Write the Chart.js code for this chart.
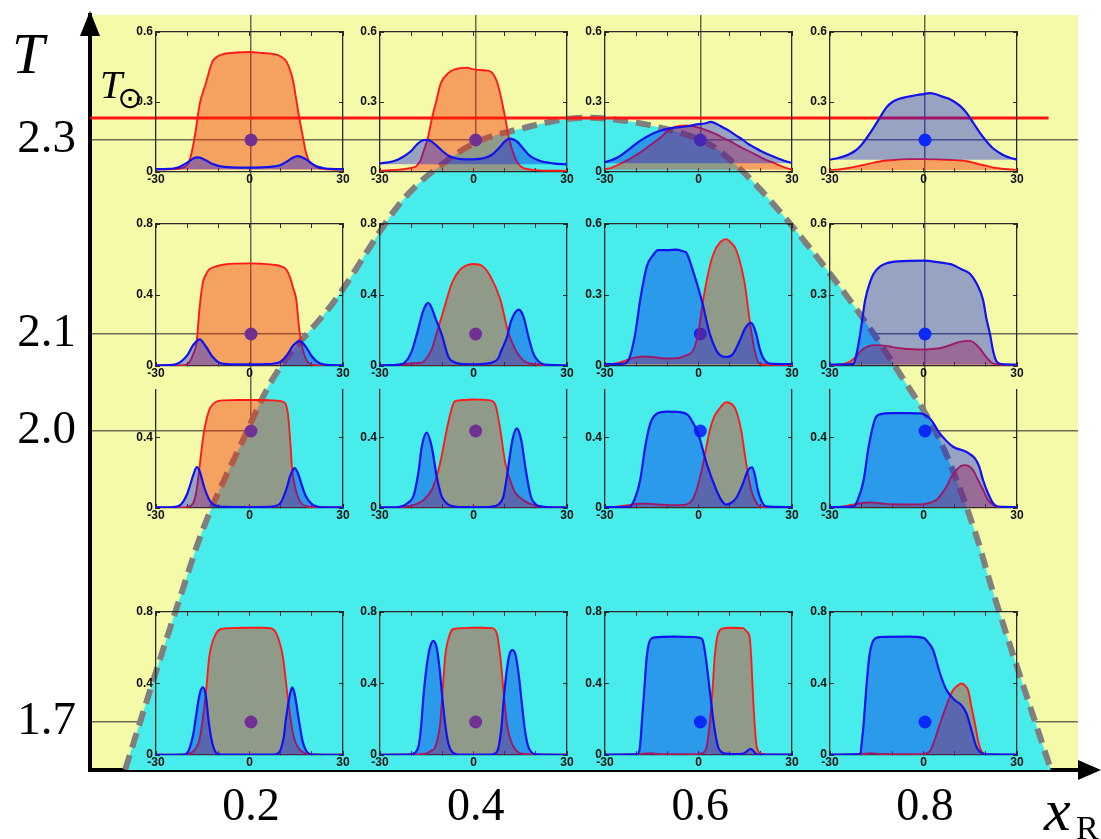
<!DOCTYPE html>
<html>
<head>
<meta charset="utf-8">
<script src="https://cdn.jsdelivr.net/npm/chart.js@4.4.1/dist/chart.umd.min.js"></script>
<style>
  body { margin: 0; background: #fff; }
  #wrap { position: relative; width: 1101px; height: 839px; }
  #wrap canvas { position: absolute; left: 0; top: 0; }
</style>
</head>
<body>
<div id="wrap"><canvas id="main" width="1101" height="839"></canvas></div>
<script>
// main axes
const xTicks = [0.2, 0.4, 0.6, 0.8];
const tTicks = [1.7, 2.0, 2.1, 2.3];
const gridXR = [0.2, 0.4, 0.6, 0.8];
const gridT = [2.3, 2.1, 2.0, 1.7];
const tSun = 2.3227;
const sunLineX = [0.057, 0.91];

// dome boundary (dashed curve)
const domeX = [0.088, 0.113, 0.139, 0.157, 0.193, 0.219, 0.275, 0.335, 0.377, 0.401, 0.431, 0.499,
               0.567, 0.609, 0.629, 0.662, 0.733, 0.781, 0.813, 0.844, 0.860, 0.912];
const domeT = [1.651, 1.743, 1.836, 1.898, 1.991, 2.053, 2.135, 2.238, 2.281, 2.298, 2.309, 2.323,
               2.312, 2.295, 2.277, 2.238, 2.135, 2.053, 1.991, 1.898, 1.836, 1.651];

// inset axes
const insetXTicks = [-30, -20, -10, 0, 10, 20, 30];
const insetXLabels = [-30, 0, 30];
const yTicks06 = [0, 0.3, 0.6];
const yTicks08 = [0, 0.4, 0.8];
const yTicksCut = [0, 0.4];

// inset profiles [x, value] : row 1 (T = 2.3)
const r1c1Red = [[-30,.012],[-24,.013],[-22,.016],[-20,.03],[-19,.06],[-18,.12],[-17,.2],[-16,.29],[-14,.38],[-12,.47],[-10,.497],[-8,.507],[-4,.512],[0,.514],[4,.51],[8,.505],[10,.495],[12,.47],[14,.39],[15,.31],[16,.23],[17,.16],[18,.09],[19,.05],[20,.035],[22,.018],[24,.013],[30,.01]];
const r1c1Blue = [[-30,.012],[-26,.013],[-24,.016],[-22,.025],[-20,.04],[-18,.058],[-17,.063],[-16,.062],[-14,.05],[-12,.035],[-10,.026],[-8,.022],[-4,.019],[0,.019],[4,.02],[8,.024],[10,.03],[12,.045],[14,.062],[15.5,.068],[17,.062],[18,.055],[20,.036],[22,.022],[24,.016],[26,.013],[30,.012]];
const r1c2Red = [[-30,.006],[-24,.01],[-22,.013],[-20,.018],[-18.5,.024],[-17,.05],[-16,.09],[-14.8,.138],[-13.2,.238],[-12,.3],[-10.5,.38],[-8,.425],[-6,.44],[-4,.445],[-2,.447],[0,.44],[2,.437],[4,.435],[5.6,.43],[7.7,.38],[10.1,.238],[11.5,.138],[13.6,.053],[15.2,.024],[18.4,.01],[22,.006],[30,.005]];
const r1c2Blue = [[-30,.037],[-28,.04],[-26,.045],[-24,.055],[-22,.07],[-20,.09],[-18,.12],[-16,.137],[-15.3,.138],[-14,.135],[-12,.115],[-10,.09],[-8,.07],[-6,.06],[-4,.055],[0,.054],[2,.056],[4,.062],[6,.075],[8,.1],[10,.13],[11.5,.143],[13,.138],[14,.13],[16,.1],[18,.07],[20,.055],[22,.045],[24,.04],[26,.036],[30,.033]];
const r1c3Red = [[-30,.013],[-28,.018],[-26,.03],[-24,.042],[-22,.056],[-20,.073],[-18,.09],[-16,.11],[-14,.13],[-12,.15],[-10,.175],[-8,.19],[-6,.197],[-4,.2],[-2,.197],[0,.19],[2,.182],[4,.171],[6,.16],[8,.145],[10,.133],[12,.118],[14,.103],[16,.09],[18,.077],[20,.063],[22,.05],[24,.04],[26,.028],[28,.018],[30,.01]];
const r1c3Blue = [[-30,.042],[-28,.05],[-26,.062],[-24,.08],[-22,.1],[-20,.122],[-18,.14],[-16,.155],[-14,.168],[-12,.178],[-10,.185],[-8,.19],[-6,.192],[-4,.195],[-2,.2],[0,.205],[2,.208],[4,.215],[6,.205],[8,.19],[10,.175],[12,.157],[14,.14],[16,.12],[18,.105],[20,.09],[22,.077],[24,.066],[26,.056],[28,.046],[30,.038]];
const r1c4Red = [[-30,.009],[-28,.01],[-26,.013],[-24,.017],[-22,.022],[-20,.028],[-18,.034],[-16,.04],[-14,.045],[-12,.049],[-10,.051],[-8,.053],[-4,.055],[0,.055],[4,.054],[8,.052],[10,.051],[12,.049],[14,.046],[16,.04],[18,.033],[20,.027],[22,.02],[24,.016],[26,.013],[28,.011],[30,.009]];
const r1c4Blue = [[-30,.053],[-28,.058],[-26,.065],[-24,.075],[-22,.09],[-20,.115],[-18,.15],[-16,.19],[-14,.233],[-12,.275],[-10,.3],[-8,.313],[-6,.32],[-4,.325],[-2,.33],[0,.334],[2,.338],[4,.333],[6,.323],[8,.315],[10,.3],[12,.28],[14,.25],[16,.21],[18,.17],[20,.135],[22,.105],[24,.085],[26,.07],[28,.06],[30,.053]];
// row 2 (T = 2.1)
const r2c1Red = [[-30,.003],[-22,.003],[-20,.01],[-19,.03],[-18,.07],[-17,.13],[-16,.33],[-15,.468],[-14,.515],[-13,.543],[-11,.56],[-8,.572],[-4,.577],[0,.578],[4,.576],[8,.57],[10,.562],[11.8,.543],[13,.5],[14,.44],[15,.375],[16,.2],[17,.1],[18,.045],[19,.018],[20,.008],[22,.003],[30,.003]];
const r2c1Blue = [[-30,.004],[-26,.005],[-24,.008],[-22,.025],[-20,.06],[-18,.12],[-16,.15],[-14,.11],[-12,.055],[-10,.022],[-8,.012],[-4,.009],[0,.009],[4,.01],[8,.014],[10,.025],[12,.06],[14,.115],[16,.14],[18,.11],[20,.055],[22,.02],[24,.008],[26,.005],[30,.004]];
const r2c2Red = [[-30,.002],[-26,.004],[-22,.01],[-18,.017],[-16.6,.019],[-15,.045],[-13.4,.094],[-11.8,.187],[-10,.29],[-8.6,.375],[-6.9,.468],[-4.3,.543],[-1.6,.571],[0,.575],[2.7,.565],[5.4,.506],[8.6,.375],[11.2,.187],[13.4,.094],[15,.05],[17.1,.019],[20,.01],[24,.005],[30,.002]];
const r2c2Blue = [[-30,.004],[-26,.005],[-24,.008],[-22,.02],[-20,.075],[-18.2,.178],[-16,.318],[-14.5,.356],[-12,.26],[-10.2,.178],[-8,.05],[-6,.02],[-4,.012],[0,.01],[4,.013],[6,.02],[8,.045],[9,.09],[10.7,.16],[12,.25],[14.5,.318],[16,.28],[17.7,.16],[19,.08],[20,.045],[22,.012],[24,.006],[30,.004]];
const r2c3Red = [[-30,.005],[-28,.008],[-26,.012],[-24,.02],[-22,.03],[-20,.037],[-17,.04],[-14,.037],[-11,.032],[-8,.032],[-6,.035],[-4.9,.04],[-3,.05],[-1.7,.066],[-0.1,.137],[1.5,.28],[3.6,.42],[5,.48],[6.8,.52],[8.9,.536],[10.5,.52],[12.1,.49],[14.8,.35],[16.4,.194],[18,.066],[19.6,.01],[22,.005],[30,.004]];
const r2c3Blue = [[-30,.008],[-24,.01],[-23,.015],[-22,.04],[-20.3,.137],[-18.7,.28],[-16.6,.42],[-14.5,.47],[-13,.49],[-10,.49],[-7,.492],[-4.9,.485],[-3.8,.477],[-2.2,.42],[1,.28],[3.6,.137],[5.7,.066],[7,.045],[8.9,.038],[11,.05],[13,.1],[15,.16],[16.9,.182],[18.5,.137],[19.5,.08],[20.6,.038],[22.8,.01],[26,.008],[30,.008]];
const r2c4Red = [[-30,.004],[-28,.005],[-26,.008],[-24,.015],[-22,.035],[-20,.065],[-18,.082],[-15,.088],[-12,.085],[-10,.08],[-6,.073],[-2,.07],[0,.07],[2,.071],[6,.077],[10,.095],[12,.103],[14.9,.106],[16,.1],[18,.075],[20,.04],[22.4,.01],[24,.007],[26,.005],[30,.004]];
const r2c4Blue = [[-30,.006],[-25,.007],[-23.5,.008],[-22.4,.01],[-21.5,.05],[-20.3,.137],[-18.7,.28],[-17,.36],[-16,.39],[-14,.42],[-11.8,.434],[-8,.442],[0,.445],[4,.44],[8,.432],[9.5,.427],[12,.41],[14.9,.39],[17,.35],[19.1,.28],[20.2,.2],[21.3,.137],[22.4,.06],[23.4,.02],[25,.008],[30,.006]];
// row 3 (T = 2.0)
const r3c1Red = [[-30,.003],[-22,.003],[-20,.006],[-18,.03],[-17,.1],[-16,.237],[-15.2,.36],[-14.5,.446],[-12.9,.56],[-10.7,.607],[-8,.615],[-4,.617],[0,.617],[4,.617],[7.5,.615],[10.7,.607],[12.3,.54],[13.2,.35],[13.6,.237],[14.5,.13],[15.5,.066],[16.5,.03],[18.2,.01],[20,.005],[30,.003]];
const r3c1Blue = [[-30,.003],[-26,.004],[-24,.006],[-22,.02],[-20,.08],[-19.3,.117],[-18,.19],[-16.9,.233],[-16,.21],[-14.5,.117],[-13,.05],[-12,.025],[-10,.01],[-8,.006],[0,.005],[6,.007],[8,.01],[10,.03],[12,.117],[13,.18],[14.5,.228],[15.5,.2],[17.1,.114],[18,.07],[20,.022],[22,.007],[24,.004],[30,.003]];
const r3c2Red = [[-30,.002],[-26,.003],[-22,.008],[-19,.018],[-17.7,.028],[-16,.045],[-13.4,.104],[-12,.17],[-10.7,.256],[-8.6,.446],[-6.8,.58],[-5.9,.61],[-3,.617],[0,.62],[3,.618],[5.9,.612],[7.2,.58],[8.6,.446],[10.2,.256],[12.9,.104],[14,.075],[16,.045],[17.7,.028],[20,.012],[24,.005],[30,.002]];
const r3c2Blue = [[-30,.003],[-26,.004],[-23,.01],[-21,.03],[-19.3,.066],[-17.7,.2],[-16.6,.35],[-15,.431],[-13.4,.35],[-11.8,.18],[-10.2,.066],[-8,.019],[-6,.008],[-3,.005],[0,.005],[3,.005],[6,.008],[8,.02],[9.6,.066],[11,.214],[12.5,.39],[13.9,.455],[15.3,.39],[16.8,.214],[18.4,.066],[20,.02],[22,.008],[26,.004],[30,.003]];
const r3c3Red = [[-30,.004],[-26,.008],[-22,.018],[-19,.024],[-16.6,.025],[-13,.02],[-9,.016],[-5,.017],[-3.8,.02],[-2,.045],[-0.6,.104],[1.5,.255],[3.6,.443],[5,.52],[6.3,.557],[8.9,.604],[10,.6],[11.6,.575],[12.7,.52],[13.7,.443],[15.3,.255],[16.9,.104],[18,.05],[19,.019],[20.6,.006],[23,.004],[30,.004]];
const r3c3Blue = [[-30,.005],[-24,.006],[-21.9,.01],[-20.5,.05],[-18.7,.16],[-17.1,.35],[-15.5,.48],[-13.4,.538],[-10,.55],[-6,.548],[-3.3,.53],[-2.2,.5],[-0.1,.425],[2.6,.255],[5.7,.104],[7.5,.04],[8.9,.019],[10.5,.03],[12.1,.057],[14.3,.142],[15.9,.217],[17.2,.232],[18.2,.18],[19,.104],[20.2,.04],[21.7,.009],[24,.006],[30,.005]];
const r3c4Red = [[-30,.004],[-26,.008],[-22,.022],[-19,.03],[-17,.032],[-14,.027],[-10,.021],[-4,.02],[0,.022],[2,.03],[4.2,.047],[5.8,.08],[7.4,.123],[9,.18],[10.6,.217],[12,.24],[13.2,.245],[14.5,.24],[15.9,.217],[17.5,.16],[19.1,.104],[20.7,.045],[22.3,.019],[24,.007],[27,.005],[30,.004]];
const r3c4Blue = [[-30,.005],[-25,.006],[-22.4,.009],[-21,.05],[-19.2,.16],[-17.6,.35],[-15.5,.51],[-14,.535],[-10,.542],[-5,.542],[-1.1,.54],[2.1,.51],[5.3,.425],[9.5,.35],[13.8,.32],[16.5,.283],[17.8,.24],[19.1,.16],[20.8,.08],[22.3,.028],[23.5,.01],[26,.006],[30,.005]];
// row 4 (T = 1.7)
const r4c1Red = [[-30,.002],[-22,.002],[-19.3,.0075],[-17.5,.03],[-16.1,.082],[-15,.2],[-13.9,.363],[-12.9,.55],[-10.7,.68],[-9.1,.705],[-6,.71],[0,.712],[4,.712],[7,.708],[8.6,.68],[10.7,.55],[12,.363],[13.4,.176],[14.4,.09],[15.5,.045],[16.8,.02],[18.2,.008],[20,.003],[30,.002]];
const r4c1Blue = [[-30,.001],[-21,.002],[-20,.01],[-19,.05],[-18,.12],[-17.4,.189],[-16,.34],[-15,.378],[-14,.33],[-13.1,.189],[-12,.07],[-11,.02],[-10,.005],[-8,.002],[8,.002],[9,.008],[10,.03],[11,.1],[11.6,.189],[13,.34],[13.7,.378],[14.5,.34],[15.9,.189],[17,.08],[18,.03],[19,.008],[20,.002],[30,.001]];
const r4c2Red = [[-30,.002],[-20,.003],[-15.5,.007],[-13.5,.025],[-12.3,.045],[-10.7,.176],[-9.9,.363],[-9.1,.55],[-7.5,.68],[-6.4,.705],[-3,.71],[0,.712],[3,.712],[5.9,.71],[7.5,.68],[8.6,.55],[9.6,.363],[10.7,.176],[11.8,.09],[12.9,.045],[14,.02],[15.5,.007],[20,.003],[30,.002]];
const r4c2Blue = [[-30,.001],[-21,.002],[-18.8,.012],[-17.5,.06],[-16.8,.16],[-16.1,.32],[-15,.5],[-14,.6],[-12.9,.639],[-11.8,.6],[-10.8,.47],[-10,.32],[-9,.16],[-8,.06],[-7,.02],[-5.9,.006],[-4,.002],[5,.002],[7,.008],[8,.04],[9,.16],[9.6,.29],[10.5,.45],[11.5,.56],[12.5,.587],[13.5,.56],[14.5,.45],[15.5,.29],[16.5,.14],[17.5,.05],[18.8,.012],[20,.003],[30,.001]];
const r4c3Red = [[-30,.002],[-20,.004],[-17,.008],[-15,.01],[-13,.006],[-5,.004],[0,.005],[1,.01],[2,.02],[2.6,.045],[3.6,.176],[4.5,.363],[5.2,.55],[6.3,.68],[7.9,.708],[10,.712],[14.3,.71],[15.5,.69],[16.4,.66],[16.9,.55],[17.4,.363],[18,.176],[18.7,.045],[20.1,.0075],[22,.003],[30,.002]];
const r4c3Blue = [[-30,.002],[-21,.003],[-19.3,.0075],[-18.7,.06],[-18.2,.176],[-17.4,.363],[-16.6,.55],[-15.5,.643],[-14,.658],[-8,.662],[-2,.66],[0.4,.655],[1.3,.643],[2.3,.55],[3.6,.363],[4.9,.176],[6.3,.045],[7.5,.015],[8.9,.0075],[11,.005],[14,.006],[15.5,.02],[16.6,.035],[17.5,.025],[18.5,.006],[20,.002],[30,.002]];
const r4c4Red = [[-30,.002],[-20,.004],[-17,.01],[-14,.006],[-5,.005],[0,.006],[2,.02],[3.5,.08],[5.3,.176],[8,.306],[9.5,.363],[11.1,.39],[12.2,.4],[13.2,.39],[14.3,.363],[15.4,.269],[16.5,.176],[17.5,.082],[18.5,.025],[19.5,.008],[21,.003],[30,.002]];
const r4c4Blue = [[-30,.002],[-22,.003],[-20.8,.005],[-20.3,.0075],[-19.8,.07],[-19.2,.176],[-18.4,.363],[-17.4,.55],[-16,.643],[-14,.66],[-5,.662],[0,.655],[1.5,.63],[3.1,.587],[5.3,.456],[7.4,.363],[10.1,.306],[12.2,.278],[13.8,.232],[15.4,.138],[17,.045],[19.1,.0075],[21,.003],[30,.002]];

const insetRed = [[r1c1Red, r1c2Red, r1c3Red, r1c4Red], [r2c1Red, r2c2Red, r2c3Red, r2c4Red],
                  [r3c1Red, r3c2Red, r3c3Red, r3c4Red], [r4c1Red, r4c2Red, r4c3Red, r4c4Red]];
const insetBlue = [[r1c1Blue, r1c2Blue, r1c3Blue, r1c4Blue], [r2c1Blue, r2c2Blue, r2c3Blue, r2c4Blue],
                   [r3c1Blue, r3c2Blue, r3c3Blue, r3c4Blue], [r4c1Blue, r4c2Blue, r4c3Blue, r4c4Blue]];
const insetYMax = [[0.6, 0.6, 0.6, 0.6], [0.8, 0.8, 0.6, 0.6], [0.674, 0.674, 0.674, 0.674], [0.8, 0.8, 0.8, 0.8]];
const insetYTicks = [[yTicks06, yTicks06, yTicks06, yTicks06], [yTicks08, yTicks08, yTicks06, yTicks06],
                     [yTicksCut, yTicksCut, yTicksCut, yTicksCut], [yTicks08, yTicks08, yTicks08, yTicks08]];

// inset placement on the page (plot box)
const colLeft = [156, 380, 605, 830];
const boxWidth = 187;
const rowTop = [32, 224, 390, 612];
const rowHeight = [140, 142, 118, 143];

const YELLOW = '#f5faa8';
const CYAN = '#48ecea';

// fixed axis sizes, no label overhang padding
const fixSize = (w, h) => s => {
    if (w !== null) s.width = w;
    if (h !== null) s.height = h;
    s.paddingTop = 0; s.paddingBottom = 0; s.paddingLeft = 0; s.paddingRight = 0;
};

// background + arrows + axis names
const decor = {
    id: 'decor',
    beforeDraw(chart) {
        const a = chart.chartArea, ctx = chart.ctx;
        ctx.save();
        ctx.fillStyle = YELLOW;
        ctx.fillRect(a.left + 2, a.top, a.right - a.left - 2, a.bottom - a.top - 2);
        ctx.restore();
    },
    afterDraw(chart) {
        const a = chart.chartArea, ctx = chart.ctx;
        ctx.save();
        ctx.fillStyle = '#000';
        ctx.strokeStyle = '#000';
        // y arrow
        ctx.beginPath();
        ctx.moveTo(a.left, 11);
        ctx.lineTo(a.left - 10, 36);
        ctx.lineTo(a.left + 10, 36);
        ctx.closePath();
        ctx.fill();
        // x axis extension + arrow
        ctx.lineWidth = 4;
        ctx.beginPath();
        ctx.moveTo(a.right - 2, a.bottom);
        ctx.lineTo(1085, a.bottom);
        ctx.stroke();
        ctx.beginPath();
        ctx.moveTo(1101, a.bottom);
        ctx.lineTo(1078, a.bottom - 10);
        ctx.lineTo(1078, a.bottom + 10);
        ctx.closePath();
        ctx.fill();
        // labels
        ctx.textBaseline = 'alphabetic';
        ctx.textAlign = 'left';
        ctx.font = 'italic 58px "Liberation Serif"';
        ctx.fillText('T', 12, 73);
        ctx.font = 'italic 40px "Liberation Serif"';
        ctx.fillText('T', 100, 98);
        ctx.font = '30px "DejaVu Sans"';
        ctx.textAlign = 'center';
        ctx.textBaseline = 'middle';
        ctx.fillText('\u2299', 130, 100);
        ctx.textAlign = 'left';
        ctx.textBaseline = 'alphabetic';
        ctx.font = 'italic 60px "Liberation Serif"';
        ctx.fillText('x', 1044, 830);
        ctx.font = '34px "Liberation Serif"';
        ctx.fillText('R', 1076, 839);
        ctx.restore();
    }
};

const dots = gridT.flatMap(t => gridXR.map(x => ({ x: x, y: t })));
const sunLine = sunLineX.map(x => ({ x: x, y: tSun }));
const dome = domeX.map((x, i) => ({ x: x, y: domeT[i] }));

new Chart(document.getElementById('main'), {
    type: 'line',
    data: {
        datasets: [
            { type: 'scatter', data: dots, pointRadius: 6.5, backgroundColor: '#1238ff', borderWidth: 0 },
            { data: sunLine, borderColor: '#ff1414', borderWidth: 3, pointRadius: 0, fill: false },
            { data: dome, borderColor: '#7f7f7f', borderWidth: 6, borderDash: [15, 8], backgroundColor: CYAN,
              fill: 'start', pointRadius: 0, cubicInterpolationMode: 'monotone' }
        ]
    },
    options: {
        responsive: false,
        animation: false,
        layout: { padding: { top: 15, right: 23, left: 0, bottom: 0 } },
        plugins: { legend: { display: false }, tooltip: { enabled: false } },
        scales: {
            x: {
                type: 'linear', min: 0.05667, max: 0.93621, z: 1,
                afterBuildTicks: s => { s.ticks = xTicks.map(v => ({ value: v })); },
                afterFit: fixSize(null, 69),
                ticks: { callback: v => v.toFixed(1), autoSkip: false, maxRotation: 0, padding: 10,
                         color: '#000', font: { family: 'Liberation Serif', size: 46 } },
                grid: { color: 'rgba(60,60,60,0.75)', lineWidth: 1.5, drawTicks: false },
                border: { display: true, color: '#000', width: 4 }
            },
            y: {
                type: 'linear', min: 1.65052, max: 2.42887, z: 1,
                afterBuildTicks: s => { s.ticks = tTicks.map(v => ({ value: v })); },
                afterFit: fixSize(90, null),
                ticks: { callback: v => v.toFixed(1), autoSkip: false, padding: 14,
                         color: '#000', font: { family: 'Liberation Serif', size: 47 } },
                grid: { color: 'rgba(60,60,60,0.75)', lineWidth: 1.5, drawTicks: false },
                border: { display: true, color: '#000', width: 4 }
            }
        }
    },
    plugins: [decor]
});

// insets
const wrap = document.getElementById('wrap');
const tickFont = { family: 'Liberation Sans', size: 12, weight: 'bold' };
const toPts = arr => arr.map(p => ({ x: p[0], y: p[1] }));
const lowest = arr => Math.min(...arr.map(p => p[1]));

for (let r = 0; r < 4; r++) {
    for (let c = 0; c < 4; c++) {
        const h = rowHeight[r];
        const cv = document.createElement('canvas');
        cv.width = 36 + boxWidth + 18;
        cv.height = h + 28;
        cv.style.left = (colLeft[c] - 36) + 'px';
        cv.style.top = (rowTop[r] - 8) + 'px';
        wrap.appendChild(cv);

        const yMax = insetYMax[r][c];
        const yT = insetYTicks[r][c];
        const red = insetRed[r][c];
        const blue = insetBlue[r][c];
        const edge = { color: '#2a2a2a', width: 1.3 };
        const marks = { drawOnChartArea: false, tickLength: -4, color: '#2a2a2a', lineWidth: 1 };

        new Chart(cv, {
            type: 'line',
            data: {
                datasets: [
                    { data: toPts(blue), borderColor: '#1212ee', borderWidth: 2.2, backgroundColor: 'rgba(0,20,235,0.38)',
                      fill: { value: lowest(blue) }, pointRadius: 0, cubicInterpolationMode: 'monotone' },
                    { data: toPts(red), borderColor: '#ff1a1a', borderWidth: 1.9, backgroundColor: 'rgba(245,40,0,0.42)',
                      fill: { value: lowest(red) }, pointRadius: 0, cubicInterpolationMode: 'monotone' }
                ]
            },
            options: {
                responsive: false,
                animation: false,
                layout: { padding: { top: 8, right: 18, left: 0, bottom: 0 } },
                plugins: { legend: { display: false }, tooltip: { enabled: false } },
                scales: {
                    x: {
                        type: 'linear', position: 'bottom', min: -30, max: 30,
                        afterBuildTicks: s => { s.ticks = insetXTicks.map(v => ({ value: v })); },
                        afterFit: fixSize(null, 20),
                        ticks: { autoSkip: false, maxRotation: 0, padding: 4, color: '#111', font: tickFont,
                                 callback: v => insetXLabels.includes(v) ? String(v) : '' },
                        grid: marks, border: edge
                    },
                    x2: {
                        type: 'linear', position: 'top', min: -30, max: 30, display: r !== 2,
                        afterBuildTicks: s => { s.ticks = insetXTicks.map(v => ({ value: v })); },
                        afterFit: fixSize(null, 0),
                        ticks: { display: false },
                        grid: marks, border: edge
                    },
                    y: {
                        type: 'linear', position: 'left', min: 0, max: yMax,
                        afterBuildTicks: s => { s.ticks = yT.map(v => ({ value: v })); },
                        afterFit: fixSize(36, null),
                        ticks: { autoSkip: false, padding: 7, color: '#111', font: tickFont, callback: v => String(v) },
                        grid: marks, border: edge
                    },
                    y2: {
                        type: 'linear', position: 'right', min: 0, max: yMax,
                        afterBuildTicks: s => { s.ticks = yT.map(v => ({ value: v })); },
                        afterFit: fixSize(0, null),
                        ticks: { display: false },
                        grid: marks, border: edge
                    }
                }
            }
        });
    }
}
</script>
</body>
</html>
